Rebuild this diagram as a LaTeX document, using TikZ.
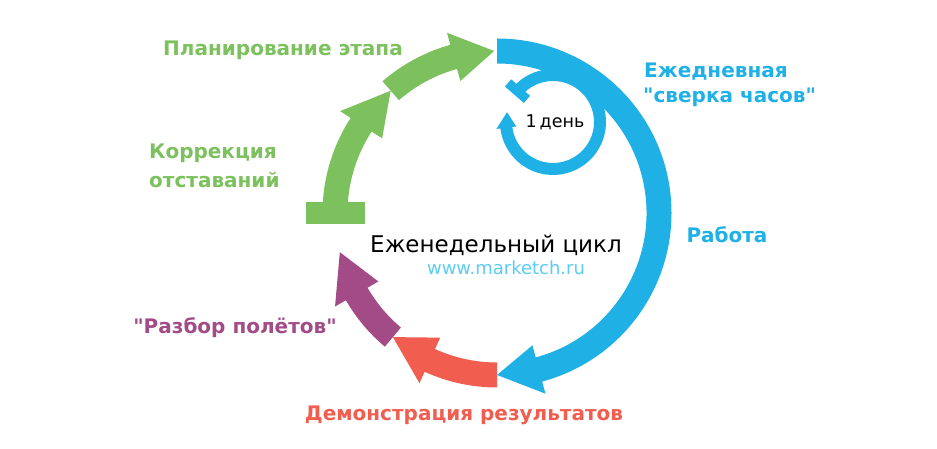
\documentclass[tikz,border=0pt]{standalone}
\usepackage{fontspec}
\setmainfont{DejaVu Sans}[Ligatures=TeXOff]
\definecolor{cgreen}{HTML}{7CC15D}
\definecolor{cblue}{HTML}{1FB1E6}
\definecolor{cred}{HTML}{F15E50}
\definecolor{cpurple}{HTML}{A34B86}
\definecolor{clight}{HTML}{5BCCF6}
% big arc arrow: colour, tail angle, head base angle, tip angle
\newcommand\bigarc[4]{%
  \fill[#1] (#2:174.5pt) arc[start angle=#2, end angle=#3, radius=174.5pt]
    -- (#3:187pt) -- (#4:162pt) -- (#3:137pt) -- (#3:149.5pt)
    arc[start angle=#3, end angle=#2, radius=149.5pt] -- cycle;}
\tikzset{
  lbl/.style={font=\bfseries\fontsize{20}{24}\selectfont, inner sep=0pt},
}
\begin{document}
\begin{tikzpicture}[x=1pt,y=1pt]
\useasboundingbox (0,0) rectangle (937,449);
\fill[white] (0,0) rectangle (937,449);
\begin{scope}[shift={(497pt,236pt)}]
  \bigarc{cblue}{90}{-75}{-90}
  \bigarc{cred}{-90}{-114.5}{-130}
  \bigarc{cpurple}{-130}{-150}{-166}
  \bigarc{cgreen}{178}{147}{131}
  \bigarc{cgreen}{131}{105.5}{91}
  \fill[cgreen] (-191pt,-11pt) rectangle (-132pt,11pt);
\end{scope}
\begin{scope}[shift={(553pt,327pt)}]
  \fill[cblue] (139:53pt) arc[start angle=139, end angle=-173, radius=53pt]
    -- (-173:57pt) -- (-192:47pt) -- (-173:37pt) -- (-173:41pt)
    arc[start angle=-173, end angle=139, radius=41pt] -- cycle;
  \fill[cblue, rotate=139] (34.5pt,-4.75pt) rectangle (59.5pt,4.75pt);
\end{scope}
\node[inner sep=0pt, font=\fontsize{17.5}{20}\selectfont] (day) at (555,327) {1\,день};
\node[lbl, text=cgreen] (plan) at (283,399) {Планирование этапа};
\node[lbl, text=cgreen, anchor=west] (korr1) at (149,296) {Коррекция};
\node[lbl, text=cgreen, anchor=west] (korr2) at (149,269) {отставаний};
\node[lbl, text=cblue, anchor=west] (ezh1) at (644,377) {Ежедневная};
\node[lbl, text=cblue, anchor=west] (ezh2) at (643,352) {"сверка часов"};
\node[lbl, text=cblue] (rab) at (727,214) {Работа};
\node[inner sep=0pt, font=\fontsize{23}{26}\selectfont] (cycle) at (496,204) {Еженедельный цикл};
\node[inner sep=0pt, text=clight, font=\fontsize{18}{20}\selectfont] (www) at (506,181) {www.marketch.ru};
\node[lbl, text=cpurple] (razb) at (235,121) {"Разбор полётов"};
\node[lbl, text=cred] (demo) at (464,34) {Демонстрация результатов};
\end{tikzpicture}
\end{document}
